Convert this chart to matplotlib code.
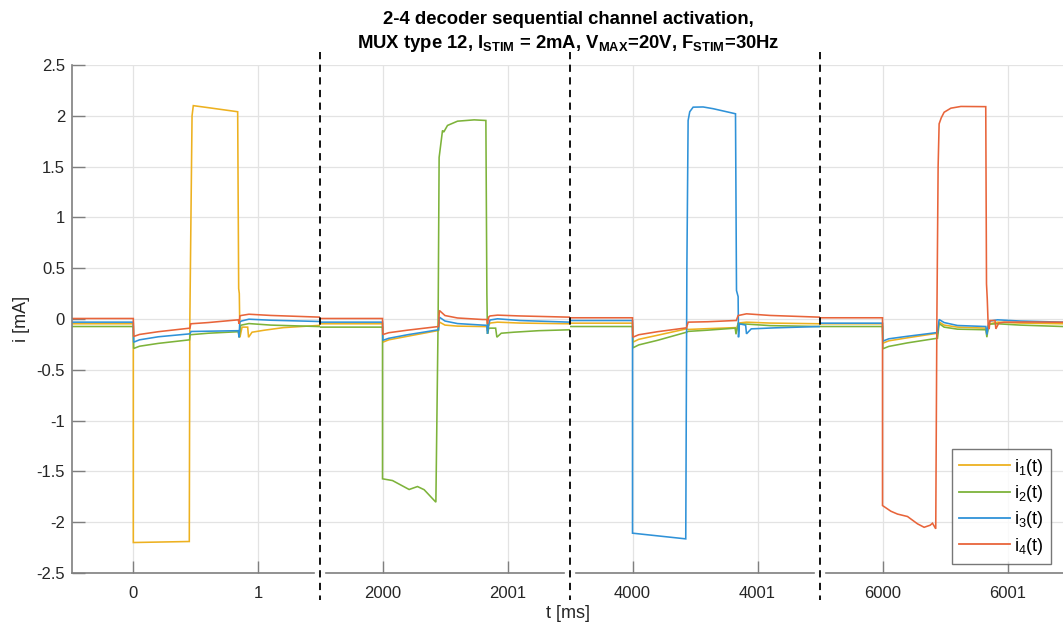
import matplotlib
matplotlib.use("Agg")
import matplotlib.pyplot as plt
from matplotlib.lines import Line2D

plt.rcParams['font.family'] = ['Liberation Sans', 'DejaVu Sans']
plt.rcParams['mathtext.fontset'] = 'custom'
plt.rcParams['mathtext.rm'] = 'Liberation Sans'
plt.rcParams['mathtext.it'] = 'Liberation Sans:italic'
plt.rcParams['mathtext.bf'] = 'Liberation Sans:bold'

# ---------------- data (time in ms relative to each burst start, current in mA) -------------
PANEL_OFFSETS = [0, 2000, 4000, 6000]
XTICK_REL = [0, 1]
YTICKS = [2.5, 2, 1.5, 1, 0.5, 0, -0.5, -1, -1.5, -2, -2.5]
YTICK_LABELS = ['2.5', '2', '1.5', '1', '0.5', '0', '-0.5', '-1', '-1.5', '-2', '-2.5']
SERIES_NAMES = ['i$_1$(t)', 'i$_2$(t)', 'i$_3$(t)', 'i$_4$(t)']

# Panel 1 (t = 0 ms)
p1_i1_t = [-0.49, 0.0, 0.0, 0.448, 0.452, 0.47, 0.48, 0.60, 0.835, 0.843, 0.848, 0.853, 0.87, 0.915, 0.922, 0.95, 1.05, 1.2, 1.5]
p1_i1_y = [-0.047, -0.047, -2.20, -2.19, -0.05, 2.0, 2.10, 2.08, 2.04, 0.30, 0.25, -0.18, -0.08, -0.08, -0.18, -0.13, -0.11, -0.085, -0.062]
p1_i2_t = [-0.49, 0.0, 0.003, 0.05, 0.2, 0.45, 0.455, 0.6, 0.84, 0.848, 0.856, 0.865, 0.925, 1.1, 1.5]
p1_i2_y = [-0.074, -0.074, -0.29, -0.268, -0.24, -0.205, -0.155, -0.14, -0.125, -0.18, -0.07, -0.06, -0.045, -0.06, -0.075]
p1_i3_t = [-0.49, 0.0, 0.003, 0.05, 0.2, 0.453, 0.462, 0.6, 0.84, 0.846, 0.852, 0.865, 0.925, 1.1, 1.5]
p1_i3_y = [-0.031, -0.031, -0.228, -0.205, -0.175, -0.146, -0.123, -0.12, -0.115, -0.18, -0.03, -0.02, -0.002, -0.012, -0.025]
p1_i4_t = [-0.49, 0.0, 0.003, 0.05, 0.2, 0.453, 0.46, 0.6, 0.84, 0.846, 0.853, 0.865, 0.925, 1.1, 1.5]
p1_i4_y = [0.005, 0.005, -0.172, -0.152, -0.125, -0.09, -0.047, -0.035, -0.008, -0.047, 0.031, 0.035, 0.047, 0.035, 0.018]

# Panel 2 (t = 2000 ms)
p2_i1_t = [-0.5, 0.0, 0.003, 0.05, 0.2, 0.448, 0.455, 0.5, 0.6, 0.835, 0.84, 0.848, 0.86, 0.92, 1.1, 1.5]
p2_i1_y = [-0.047, -0.047, -0.228, -0.205, -0.17, -0.113, -0.03, -0.06, -0.07, -0.075, -0.12, -0.07, -0.04, -0.031, -0.04, -0.047]
p2_i2_t = [-0.5, 0.0, 0.0, 0.08, 0.213, 0.28, 0.333, 0.427, 0.445, 0.453, 0.48, 0.49, 0.52, 0.6, 0.733, 0.827, 0.835, 0.838, 0.84, 0.85, 0.905, 0.915, 0.95, 1.05, 1.25, 1.5]
p2_i2_y = [-0.08, -0.08, -1.573, -1.59, -1.678, -1.649, -1.68, -1.803, 0.0, 1.59, 1.855, 1.84, 1.905, 1.947, 1.96, 1.954, 0.25, 0.0, -0.146, -0.09, -0.09, -0.179, -0.14, -0.13, -0.115, -0.106]
p2_i3_t = [-0.5, 0.0, 0.003, 0.05, 0.2, 0.448, 0.455, 0.5, 0.6, 0.8, 0.835, 0.84, 0.85, 0.86, 0.92, 1.1, 1.5]
p2_i3_y = [-0.031, -0.031, -0.21, -0.19, -0.155, -0.106, 0.018, -0.02, -0.045, -0.06, -0.062, -0.146, -0.05, -0.01, 0.002, -0.015, -0.031]
p2_i4_t = [-0.5, 0.0, 0.003, 0.05, 0.2, 0.448, 0.455, 0.5, 0.6, 0.8, 0.835, 0.84, 0.85, 0.86, 0.92, 1.1, 1.5]
p2_i4_y = [0.005, 0.005, -0.153, -0.135, -0.11, -0.074, 0.084, 0.034, 0.01, -0.005, -0.005, -0.047, 0.02, 0.03, 0.038, 0.03, 0.018]

# Panel 3 (t = 4000 ms)
p3_i1_t = [-0.5, 0.0, 0.003, 0.05, 0.2, 0.432, 0.445, 0.6, 0.822, 0.828, 0.845, 0.912, 1.1, 1.5]
p3_i1_y = [-0.041, -0.041, -0.228, -0.2, -0.16, -0.097, -0.103, -0.095, -0.085, -0.13, -0.04, -0.031, -0.04, -0.047]
p3_i2_t = [-0.5, 0.0, 0.003, 0.05, 0.2, 0.432, 0.445, 0.6, 0.822, 0.828, 0.845, 0.912, 1.1, 1.5]
p3_i2_y = [-0.074, -0.074, -0.284, -0.255, -0.21, -0.13, -0.122, -0.11, -0.09, -0.15, -0.047, -0.05, -0.065, -0.074]
p3_i3_t = [-0.5, 0.0, 0.0, 0.426, 0.435, 0.445, 0.458, 0.485, 0.565, 0.645, 0.824, 0.832, 0.845, 0.848, 0.855, 0.865, 0.905, 0.912, 0.95, 1.14, 1.5]
p3_i3_y = [-0.015, -0.015, -2.108, -2.164, 0.5, 1.954, 2.04, 2.085, 2.087, 2.07, 2.02, 0.28, 0.22, -0.18, -0.05, -0.05, -0.06, -0.146, -0.097, -0.087, -0.074]
p3_i4_t = [-0.5, 0.0, 0.003, 0.05, 0.2, 0.432, 0.445, 0.6, 0.822, 0.83, 0.845, 0.912, 1.1, 1.5]
p3_i4_y = [0.012, 0.012, -0.179, -0.155, -0.125, -0.087, -0.031, -0.027, -0.015, -0.015, 0.034, 0.051, 0.035, 0.018]

# Panel 4 (t = 6000 ms)
p4_i1_t = [-0.5, 0.0, 0.003, 0.05, 0.2, 0.44, 0.453, 0.493, 0.6, 0.827, 0.835, 0.848, 0.861, 0.92, 1.1, 1.444]
p4_i1_y = [-0.047, -0.047, -0.238, -0.215, -0.185, -0.14, -0.03, -0.06, -0.08, -0.09, -0.15, -0.06, -0.047, -0.031, -0.04, -0.047]
p4_i2_t = [-0.5, 0.0, 0.003, 0.05, 0.2, 0.44, 0.453, 0.493, 0.6, 0.827, 0.835, 0.848, 0.861, 0.92, 1.1, 1.444]
p4_i2_y = [-0.074, -0.074, -0.293, -0.27, -0.235, -0.189, -0.045, -0.08, -0.1, -0.106, -0.179, -0.065, -0.05, -0.047, -0.06, -0.074]
p4_i3_t = [-0.5, 0.0, 0.003, 0.05, 0.2, 0.44, 0.453, 0.493, 0.6, 0.827, 0.835, 0.848, 0.861, 0.92, 1.1, 1.444]
p4_i3_y = [-0.041, -0.041, -0.218, -0.195, -0.17, -0.133, -0.005, -0.035, -0.064, -0.074, -0.153, -0.05, -0.02, -0.008, -0.02, -0.031]
p4_i4_t = [-0.5, 0.0, 0.0, 0.067, 0.12, 0.2, 0.28, 0.333, 0.381, 0.4, 0.426, 0.435, 0.445, 0.453, 0.47, 0.493, 0.547, 0.627, 0.826, 0.832, 0.838, 0.845, 0.853, 0.86, 0.9, 0.907, 0.93, 0.973, 1.2, 1.444]
p4_i4_y = [0.012, 0.012, -1.836, -1.892, -1.92, -1.944, -2.016, -2.05, -2.03, -2.01, -2.065, 0.0, 1.5, 1.921, 1.98, 2.035, 2.075, 2.092, 2.09, 0.346, 0.2, -0.047, -0.1, -0.015, -0.015, -0.097, -0.04, -0.031, -0.03, -0.032]

PANELS = [
    [(p1_i1_t, p1_i1_y), (p1_i2_t, p1_i2_y), (p1_i3_t, p1_i3_y), (p1_i4_t, p1_i4_y)],
    [(p2_i1_t, p2_i1_y), (p2_i2_t, p2_i2_y), (p2_i3_t, p2_i3_y), (p2_i4_t, p2_i4_y)],
    [(p3_i1_t, p3_i1_y), (p3_i2_t, p3_i2_y), (p3_i3_t, p3_i3_y), (p3_i4_t, p3_i4_y)],
    [(p4_i1_t, p4_i1_y), (p4_i2_t, p4_i2_y), (p4_i3_t, p4_i3_y), (p4_i4_t, p4_i4_y)],
]

# ---------------- style ----------------
COLORS = ['#EDB120', '#7DB33A', '#2F92D8', '#E8643A']
W, H = 1063, 628
AX_TOP_PX, AX_BOT_PX = 65, 573
PANEL_PX = [(72, 320), (320, 570), (570, 820), (820, 1063)]
PX_PER_MS = 125.0
GAP_PX = 6
SPINE_C = '#7f7f7f'
TEXT_C = '#262626'
GRID_C = '#e3e3e3'
TICK_FS = 12

fig = plt.figure(figsize=(W / 100, H / 100), dpi=100)

axes = []
for k, ((x0, x1), off, series) in enumerate(zip(PANEL_PX, PANEL_OFFSETS, PANELS)):
    ax = fig.add_axes([x0 / W, 1 - AX_BOT_PX / H, (x1 - x0) / W, (AX_BOT_PX - AX_TOP_PX) / H])
    ax.set_facecolor('none')
    xmin = off - 0.5 if k > 0 else off - (133.3 - x0) / PX_PER_MS
    xmax = xmin + (x1 - x0) / PX_PER_MS
    for (tt, yy), c, name in zip(series, COLORS, SERIES_NAMES):
        ax.plot([off + t for t in tt], yy, color=c, lw=1.15, label=name, solid_joinstyle='miter')
    ax.set_xlim(xmin, xmax)
    ax.set_ylim(-2.5, 2.5)
    ax.set_xticks([off + t for t in XTICK_REL])
    ax.set_xticklabels([str(off + t) for t in XTICK_REL])
    ax.set_yticks(YTICKS)
    ax.grid(True, color=GRID_C, lw=0.9)
    ax.set_axisbelow(True)
    ax.tick_params(axis='x', direction='in', length=9, width=1.0, color=SPINE_C,
                   labelsize=TICK_FS, labelcolor=TEXT_C, pad=9)
    for s in ['top', 'right']:
        ax.spines[s].set_visible(False)
    ax.spines['bottom'].set_color(SPINE_C)
    ax.spines['bottom'].set_linewidth(1.2)
    lo = xmin if k == 0 else xmin + GAP_PX / PX_PER_MS
    hi = xmax if k == 3 else xmax - GAP_PX / PX_PER_MS
    ax.spines['bottom'].set_bounds(lo, hi)
    if k == 0:
        ax.set_yticklabels(YTICK_LABELS)
        ax.spines['left'].set_color(SPINE_C)
        ax.spines['left'].set_linewidth(1.2)
        ax.tick_params(axis='y', direction='in', length=9, width=1.0, color=SPINE_C,
                       labelsize=TICK_FS, labelcolor=TEXT_C, pad=5)
    else:
        ax.spines['left'].set_visible(False)
        ax.tick_params(axis='y', left=False, labelleft=False)
    axes.append(ax)

# break separators
for (x0, x1) in PANEL_PX[:-1]:
    fig.add_artist(Line2D([x1 / W, x1 / W], [1 - 52 / H, 1 - 600 / H], transform=fig.transFigure,
                          color='black', lw=1.3, linestyle=(0, (4, 3))))

# legend
handles, labels = axes[3].get_legend_handles_labels()
leg = fig.legend(handles, labels, loc='lower right', bbox_to_anchor=(1051 / W, 1 - 564 / H),
                 bbox_transform=fig.transFigure, frameon=True, fancybox=False, fontsize=13,
                 handlelength=2.8, handletextpad=0.25, labelspacing=0.3, borderpad=0.4,
                 borderaxespad=0)
leg.get_frame().set_edgecolor('#555555')
leg.get_frame().set_linewidth(1.0)
for line in leg.get_lines():
    line.set_linewidth(1.3)

# titles / labels
fig.text(568 / W, 1 - 20 / H, '2-4 decoder sequential channel activation,', ha='center', va='center',
         fontsize=13.3, fontweight='bold', color='black')
fig.text(568 / W, 1 - 44 / H,
         r'MUX type 12, I$_{\mathbf{STIM}}$ = 2mA, V$_{\mathbf{MAX}}$=20V, F$_{\mathbf{STIM}}$=30Hz',
         ha='center', va='center', fontsize=13.3, fontweight='bold', color='black')
fig.text(568 / W, 1 - 613 / H, 't [ms]', ha='center', va='center', fontsize=13, color=TEXT_C)
fig.text(22 / W, 1 - 319 / H, 'i [mA]', ha='center', va='center', rotation=90, fontsize=13, color=TEXT_C)

fig.savefig('out.png', dpi=100, facecolor='white')
